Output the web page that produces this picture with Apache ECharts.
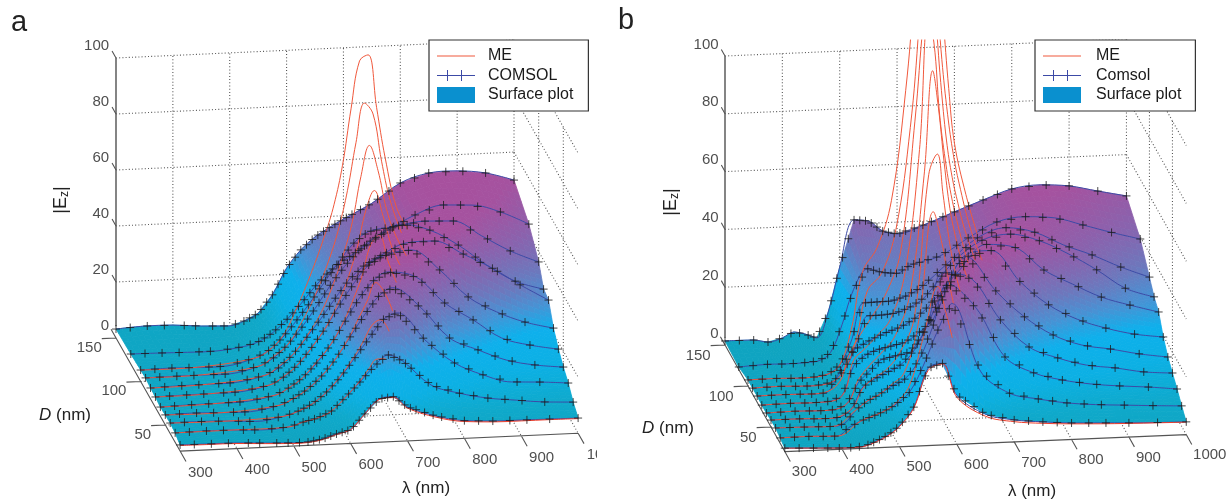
<!DOCTYPE html>
<html><head><meta charset="utf-8">
<style>html,body{margin:0;padding:0;background:#fff}#c{width:1230px;height:500px}</style>
<script src="https://cdn.jsdelivr.net/npm/echarts@6/dist/echarts.min.js"></script>
</head><body><div id="c"></div>
<script>
/* ---------- values ---------- */
const diameters = [150,120,100,90,80,70,60,50,40,30,20];

const lambdaA = [300,350,400,450,500,525,550,575,600,625,650,675,700,750,800,850,900,950,1000];
const comsolA150 = [3.2,3.8,3.7,2.9,2.5,4,6.6,12.9,22.2,28.5,32.9,36,38.8,44,50.8,53.9,54.2,53,50];
const comsolA120 = [3.6,3.5,3.3,3.3,4.5,6,9,13.5,19,25,30,33.7,36.8,43.4,48.7,51.8,51.3,48.4,43.6];
const comsolA100 = [4.1,4.3,4.1,4.1,6.5,9,13.5,19.5,26,33,40,46,49.8,51.4,52.7,52.3,46.5,40.7,36.3];
const comsolA90  = [4.4,4.5,4.5,4.5,6.8,9.5,14,20,27,34.5,41,46.5,50.4,55.2,52.6,46.8,39.2,33,29.7];
const comsolA80  = [3.9,4.2,4.3,4.5,6.5,9,13.5,19.5,26,33,39.5,44,47,51.6,51.8,46.7,41.3,34.8,28.9];
const comsolA70  = [3.8,4,4.1,4.3,6.2,8.8,13,19,26,34,41.5,47.5,50.5,52.2,44.6,34.5,28.7,24.6,22];
const comsolA60  = [3.3,3.6,3.7,3.9,5.6,8,11.5,16.5,23,31,39,45,47.9,45.6,35.9,29.4,22.5,19.5,17.6];
const comsolA50  = [3.6,3.8,3.5,3.4,5.2,7.4,10.5,15,21,28.5,36,42.5,45.4,37.7,26.5,21.8,17.7,15.5,14.3];
const comsolA40  = [3.8,3.9,3.6,3,4.4,6,8.4,12.4,17.6,24.2,31,37.4,39.5,29,20.7,16,13,12.5,11.7];
const comsolA30  = [3.4,3.6,3.5,3.1,3.7,5.2,6.4,8.7,13.5,18.6,24,27.8,25.4,16.4,13,10.8,9.6,8.5,8];
const comsolA20  = [2.2,2.1,2,1.5,1.1,1.2,2,3.6,4.9,10.3,15.4,16,12.1,8.4,6.3,5.7,5.6,5.5,5.4];

const lambdaMeA = [300,400,500,525,550,575,600,625,640,655,670,685,700,715,730,750,770];
const meA100 = [4.1,4.2,6.5,9,14,24,36,50,60,74,94,111,113,94,76,58,50];
const meA90  = [4.4,4.6,6.8,10,14,22,32,45,55,68,85,99,95,78,64,52];
const meA80  = [3.9,4.3,6.5,9.5,13.5,20,28,40,49,60,76,87,78,64,55,47];
const meA70  = [3.8,4.1,6.2,9,13,19,26,36,44,54,67,74,65,54,47];
const meA60  = [3.3,3.7,5.6,8,11.5,17,23,32,39,47,58,61,52,44];
const meA50  = [3.6,3.5,5.2,7.4,10.5,15,21,29,35,41,47.5,44,37];
const meA40  = [3.8,3.6,4.4,6,8.4,12.4,18,25,30,35.5,37.3,33];
const meA30  = [3.4,3.5,3.7,5.2,6.4,8.7,13.5,19,23,26.5,26.5];
const meA20  = [2,1.9,1.8,1.3,0.9,1,1.8,3.4,5,10.4,15.2,15.7,11.7,8,6,5.4,5.3,5.3,5.2];
const meshLambdaA = [300,325,355,385,420,440,470,490,510,525,535,545,555,565,575,585,595,605,615,625,635,645,655,665,675,685,695,705,715,730,745,760,780,800,825,850,880,910,950,1000];

const lambdaB = [300,350,375,400,420,440,460,480,500,525,550,575,600,650,700,750,800,850,900,950,1000];
const comsolB150 = [1.4,1.3,0.4,1.6,3.5,2.6,1.1,9.9,25.3,41.4,40.8,37.1,35.9,38.9,42.7,46.4,49.8,50.8,50,47.8,45.7];
const comsolB120 = [0.9,1.4,1.3,1.3,1.5,1.9,4.6,14,26,33,31.5,31,33.7,36.3,42.2,47.3,48.7,47.9,45,42,39.3];
const comsolB100 = [2.1,2.2,2,2,2.2,3,6,14,27,27.2,27.3,28.8,31.4,39.9,47.9,51,49,44.2,40.3,35.7,31.8];
const comsolB90  = [2.1,2.3,2.1,2,2.3,3.2,7,15,25.4,25.5,26,27.9,31,42.8,49.9,51.6,48.9,44,38,31.2,27.8];
const comsolB80  = [2.2,2.3,2.2,2.1,2.3,8,15.5,18,20.2,22.3,24,26.8,31,42.2,51.3,49.8,41.6,36.3,31.4,28.2,25.4];
const comsolB70  = [1.9,2.1,2,2,2.3,4,14,17.5,19.3,20.4,21.6,24.9,29.5,50,52,40.9,32.4,27,23.5,21,19.6];
const comsolB60  = [2,2.2,2.1,2,2.2,4,11,15,18.7,19.9,21,27.7,38.2,53,40.9,31.5,24.8,20.9,19.1,17,15.5];
const comsolB50  = [2.4,2.4,2.2,2.1,2.4,5,12.5,15,17,19.5,24.5,34.7,51,48.3,33.7,23.9,19.7,16.8,15.4,13.6,12.8];
const comsolB40  = [2.5,2.4,2.3,2.2,3,7.5,10.5,12.5,15,17.5,23.9,35.8,50,41,23.7,17.8,14.9,13.1,12,11.2,10.1];
const comsolB30  = [1.9,2,1.8,1.7,4.5,6.5,8,9.5,11.6,15.7,25,36.9,45.9,21.8,14,11.6,9.8,8.8,8.2,7.6,7.1];
const comsolB20  = [1.2,0.8,0.6,0.4,0.4,0.8,2.3,4.2,7.2,13.5,26.8,28.2,17,10,7.6,6.5,5.7,5.3,4.9,4.6,4.4];

const lambdaMeB = [300,350,400,440,460,480,500,525,550,575,590,600,610,620,630,640,650,660,680,700];
const meB100 = [2.1,2.2,2,3,6,18,38,46,62,100,135,165,180,175,150,125,100,81,63,49];
const meB90  = [2.1,2.3,2,3.2,7,17,34,40,55,90,125,160,155,138,113,94,80,70,54,43];
const meB80  = [2.2,2.3,2.1,5,15,22,28,36,50,95,130,145,132,108,88,75,66,58,46];
const meB70  = [1.9,2.1,2,4,16,20,24,30,46,88,133,125,100,84,72,63,55,48];
const meB60  = [2,2.2,2,4,12,17,21,27,41,82,118,105,86,70,60,52,46];
const meB50  = [2.4,2.4,2.1,5,12,15.5,18,24,36,85,92,78,63,52,44];
const meB40  = [2.5,2.4,2.2,7.5,10.5,12.5,15.5,20,38,75,64,53,43];
const meB30  = [1.9,2,1.7,6.5,8,9.5,12,18,35,52,42,34];
const meB20  = [1.2,0.8,0.6,0.4,0.4,0.7,2.1,4,7,13.2,26,28,16.3,9.3,7,6,5.4,5,4.7,4.5,4.3];
const meshLambdaB = [300,325,350,375,395,415,430,445,455,465,475,485,495,505,515,525,535,545,555,565,575,585,595,605,615,630,645,660,680,700,725,750,775,800,830,860,900,950,1000];

const eTicks = [0,20,40,60,80,100];
const dTicks = [50,100,150];
const lambdaTicks = [300,400,500,600,700,800,900,1000];

/* ---------- rendering ---------- */
const FONT = '"Liberation Sans", Arial, sans-serif';
const SURFACE_STOPS = [[0,[15,163,191]],[8,[15,169,203]],[15,[12,176,228]],[22,[14,176,236]],[28,[72,146,212]],[34,[108,120,189]],[42,[138,98,173]],[50,[165,82,159]],[60,[170,79,156]]];
function surfaceColor(e){
  let i=0; while(i<SURFACE_STOPS.length-2 && e>SURFACE_STOPS[i+1][0]) i++;
  const a=SURFACE_STOPS[i],b=SURFACE_STOPS[i+1];
  const t=Math.min(1,Math.max(0,(e-a[0])/(b[0]-a[0])));
  return 'rgb('+a[1].map((v,k)=>Math.round(v+(b[1][k]-v)*t)).join(',')+')';
}
const PANELS = [
 {grid:0,lambda:lambdaA,rows:[comsolA150,comsolA120,comsolA100,comsolA90,comsolA80,comsolA70,comsolA60,comsolA50,comsolA40,comsolA30,comsolA20],
  lambdaMe:lambdaMeA,me:[[100,meA100],[90,meA90],[80,meA80],[70,meA70],[60,meA60],[50,meA50],[40,meA40],[30,meA30]],me20:meA20,mesh:meshLambdaA,
  x0:116,xl:.5686,xd:.493,y0:338,yd:.87,yl:.0256,ye:2.8,floorE:3.2,comsolName:'COMSOL',
  lamOff:[8,0],lastOff:[13,0],dOff:[0,9]},
 {grid:1,lambda:lambdaB,rows:[comsolB150,comsolB120,comsolB100,comsolB90,comsolB80,comsolB70,comsolB60,comsolB50,comsolB40,comsolB30,comsolB20],
  lambdaMe:lambdaMeB,me:[[100,meB100],[90,meB90],[80,meB80],[70,meB70],[60,meB60],[50,meB50],[40,meB40],[30,meB30]],me20:meB20,mesh:meshLambdaB,
  x0:725,xl:.5735,xd:.46,y0:345,yd:.82,yl:.0243,ye:2.89,floorE:1.5,comsolName:'Comsol',
  lamOff:[8,0],lastOff:[12,0],dOff:[0,10]}
];
const proj=(p,l,d,e)=>[p.x0+(l-300)*p.xl+(150-d)*p.xd, p.y0+(150-d)*p.yd-(l-300)*p.yl-e*p.ye];
const GAP=['-','-'];
function segs(list){const out=[];list.forEach(s=>{out.push(...s,GAP)});return out;}
function valueAt(xs,ys,l){
  for(let i=0;i<xs.length-1;i++){ if(l<=xs[i+1]){const t=(l-xs[i])/(xs[i+1]-xs[i]);return ys[i]+(ys[i+1]-ys[i])*t;} }
  return ys[ys.length-1];
}
const series=[];
PANELS.forEach(p=>{
  const ax={xAxisIndex:p.grid,yAxisIndex:p.grid,animation:false,silent:true};
  const lineSeries=(data,style,z,extra)=>series.push(Object.assign({type:'line',data,symbol:'none',lineStyle:style,z,connectNulls:false},ax,extra||{}));
  // dotted walls and floor
  const wall=[];
  [400,500,600,700,800,900,1000].forEach(l=>wall.push([proj(p,l,150,0),proj(p,l,150,100)]));
  [20,40,60,80,100].forEach(e=>wall.push([proj(p,300,150,e),proj(p,1000,150,e)]));
  [100,50].forEach(d=>wall.push([proj(p,1000,d,0),proj(p,1000,d,100)]));
  [20,40,60,80,100].forEach(e=>wall.push([proj(p,1000,150,e),proj(p,1000,20,e)]));
  lineSeries(segs(wall),{color:'#555',width:1.1,type:[1,2.2]},1);
  const floor=[];
  [400,500,600,700,800,900,1000].forEach(l=>floor.push([proj(p,l,150,0),proj(p,l,20,0)]));
  [50,100].forEach(d=>floor.push([proj(p,300,d,0),proj(p,1000,d,0)]));
  lineSeries(segs(floor),{color:'#555',width:1.1,type:[1,2.2]},1);
  // solid axes and ticks
  const axes=[[proj(p,300,150,100),proj(p,300,150,p.floorE+1)]];
  lineSeries(segs(axes),{color:'#666',width:1.6},2);
  const frame=[[proj(p,300,160,0),proj(p,300,20,0)],[proj(p,300,20,0),proj(p,1000,20,0)]];
  lambdaTicks.forEach(l=>frame.push([proj(p,l,20,0),proj(p,l,8,0)]));
  dTicks.forEach(d=>frame.push([proj(p,300,d,0),proj(p,275,d,0)]));
  eTicks.forEach(e=>frame.push([proj(p,300,150,e),proj(p,300,158,e)]));
  lineSeries(segs(frame),{color:'#555',width:1.1},2);
  // surface
  const cells=[];
  for(let r=0;r<p.rows.length-1;r++)for(let c=0;c<p.lambda.length-1;c++)cells.push([r,c]);
  series.push(Object.assign({},ax,{type:'custom',name:'Surface plot',data:cells,z:3,itemStyle:{color:'#0a90cf'},
    renderItem:(params,api)=>{
      const r=api.value(0),c=api.value(1),ch=[],nu=5,nv=6;
      const l0=p.lambda[c],l1=p.lambda[c+1],d0=diameters[r],d1=diameters[r+1];
      const A=p.rows[r][c],B=p.rows[r][c+1],C=p.rows[r+1][c],D=p.rows[r+1][c+1];
      const pt=(s,t)=>{const e=(A*(1-s)+B*s)*(1-t)+(C*(1-s)+D*s)*t;
        return {e,xy:api.coord(proj(p,l0+(l1-l0)*s,d0+(d1-d0)*t,e))};};
      for(let v=0;v<nv;v++)for(let u=0;u<nu;u++){
        const a=pt(u/nu,v/nv),b=pt((u+1)/nu,v/nv),d=pt((u+1)/nu,(v+1)/nv),e=pt(u/nu,(v+1)/nv);
        const col=surfaceColor((a.e+b.e+d.e+e.e)/4);
        ch.push({type:'polygon',shape:{points:[a.xy,b.xy,d.xy,e.xy]},style:{fill:col,stroke:col,lineWidth:0.8}});
      }
      return {type:'group',children:ch};
    }}));
  // COMSOL rows
  p.rows.forEach((row,i)=>{
    lineSeries(row.map((e,k)=>proj(p,p.lambda[k],diameters[i],e)),{color:'#3c4aa6',width:1},5,{name:p.comsolName,smooth:0.35});
  });
  // ME rows
  p.me.forEach(([d,row])=>{
    lineSeries(row.map((e,k)=>proj(p,p.lambdaMe[k],d,e)),{color:'#f0583c',width:1},6,{name:'ME',smooth:0.4});
  });
  lineSeries(p.me20.map((e,k)=>proj(p,p.lambda[k],20,e)),{color:'#ee3d2a',width:1},6,{name:'ME',smooth:0.35});
  // COMSOL mesh markers
  const marks=[];
  p.rows.forEach((row,i)=>p.mesh.forEach(l=>marks.push(proj(p,l,diameters[i],valueAt(p.lambda,row,l)))));
  series.push(Object.assign({},ax,{type:'scatter',name:'mesh',data:marks,z:7,
    symbol:'path://M0,-5V5M-5,0H5',symbolSize:8,itemStyle:{color:'rgba(0,0,0,0)',borderColor:'#1c1c1c',borderWidth:1}}));
  // tick labels
  const lab=(data,extra)=>series.push(Object.assign({},ax,{type:'scatter',data,symbolSize:0,z:8,clip:false,
    label:Object.assign({show:true,formatter:o=>String(o.value[2]),fontFamily:FONT,fontSize:15,color:'#222',position:'inside',verticalAlign:'middle'},extra)}));
  lab(eTicks.map(e=>{const q=proj(p,300,164,e);return [q[0],q[1],e]}),{align:'right'});
  lab(dTicks.map(d=>{const q=proj(p,275,d,0);return [q[0],q[1],d]}),{align:'right',offset:p.dOff});
  lab(lambdaTicks.map(l=>{const q=proj(p,l,-5,0);const v=[q[0],q[1],l];return l===1000?{value:v,label:{offset:p.lastOff}}:v}),{align:'center',offset:p.lamOff});
});

const legendIcons={line:'path://M0,0H38V1H0Z',comsol:'path://M0,5H38V6H0Z M10,0H11V11H10Z M24,0H25V11H24Z'};
const legendOf=(left,label,pad)=>({left,top:40,orient:'vertical',selectedMode:false,backgroundColor:'#fff',borderColor:'#333',borderWidth:1.2,
  padding:[8,pad[1],8,8],itemWidth:38,itemHeight:16,itemGap:3.5,
  textStyle:{fontFamily:FONT,fontSize:16,color:'#1a1a1a',padding:[0,0,0,pad[0]]},
  data:[{name:'ME',icon:legendIcons.line,itemStyle:{color:'#f0583c'}},
        {name:label,icon:legendIcons.comsol,itemStyle:{color:'#3c4aa6'}},
        {name:'Surface plot',icon:'rect',itemStyle:{color:'#0a90cf'}}]});

const T=(x,y,text,fs,extra)=>Object.assign({type:'text',x,y,z:100,silent:true,style:Object.assign({text,fontFamily:FONT,fontSize:fs,fill:'#222',align:'center',verticalAlign:'middle'},(extra||{}).style||{})},extra&&extra.rotation?{rotation:extra.rotation}:{});
const richE={z:{fontFamily:FONT,fontSize:12,fill:'#222',padding:[7,0,0,0]},e:{fontFamily:FONT,fontSize:18,fill:'#222'}};
const richD={i:{fontFamily:FONT,fontSize:17,fontStyle:'italic',fill:'#222'},n:{fontFamily:FONT,fontSize:17,fill:'#222'}};

const option={
  animation:false,backgroundColor:'#fff',
  grid:[{left:0,top:0,width:615,height:500},{left:615,top:40,width:615,height:460}],
  xAxis:[{type:'value',gridIndex:0,min:0,max:615,show:false},{type:'value',gridIndex:1,min:615,max:1230,show:false}],
  yAxis:[{type:'value',gridIndex:0,min:0,max:500,inverse:true,show:false},{type:'value',gridIndex:1,min:40,max:500,inverse:true,show:false}],
  legend:[legendOf(429,'COMSOL',[8,15]),legendOf(1035,'Comsol',[10,14])],
  series,
  graphic:[
    {type:'rect',z:100,silent:true,shape:{x:597,y:444,width:28,height:24},style:{fill:'#fff'}},
    T(19,23,'a',29),T(626,21,'b',29),
    T(61,200,'{e||E}{z|z}{e||}',18,{rotation:Math.PI/2,style:{rich:richE}}),
    T(671,202,'{e||E}{z|z}{e||}',18,{rotation:Math.PI/2,style:{rich:richE}}),
    T(65,415,'{i|D}{n| (nm)}',17,{style:{rich:richD}}),
    T(668,428,'{i|D}{n| (nm)}',17,{style:{rich:richD}}),
    T(426,488,'λ (nm)',17),T(1032,491,'λ (nm)',17)
  ]
};
echarts.init(document.getElementById('c'),null,{renderer:'canvas'}).setOption(option);
</script></body></html>
